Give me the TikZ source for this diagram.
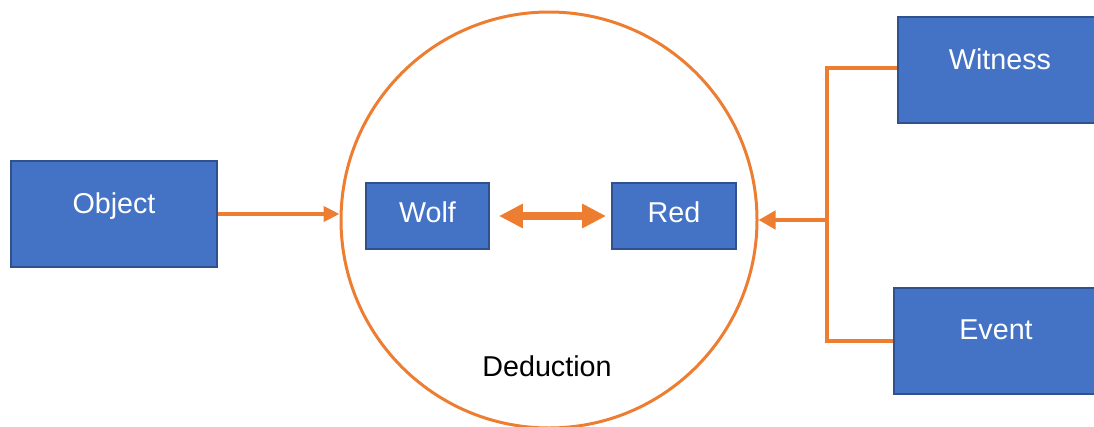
\documentclass[tikz,border=0pt]{standalone}
\usepackage{fontspec}
\setmainfont{Liberation Sans}
\usetikzlibrary{arrows.meta,calc}
\definecolor{boxblue}{HTML}{4472C4}
\definecolor{boxedge}{HTML}{2F528F}
\definecolor{linkorange}{HTML}{ED7D31}

\begin{document}
\begin{tikzpicture}[x=1pt,y=-1pt,
  box/.style={draw=boxedge, line width=1.8pt, fill=boxblue, text=white,
    inner sep=0pt, font=\fontsize{28.7}{32}\selectfont},
  bigbox/.style={box, minimum width=206pt, text height=52pt, text depth=54pt},
  smallbox/.style={box, text height=39pt, text depth=27pt},
  edgebox/.style={box, minimum width=240pt, minimum height=106pt, anchor=west},
  boxtext/.style={text=white, font=\fontsize{28.7}{32}\selectfont, anchor=base, inner sep=0pt},
  link/.style={draw=linkorange, line width=4.5pt},
  ring/.style={draw=linkorange, line width=3pt, circle, inner sep=0pt, minimum size=416pt},
  caption/.style={font=\fontsize{28.7}{32}\selectfont, text=black}
]
\useasboundingbox (0,0) rectangle (1094,426);

% the deduction circle and its caption
\node[ring] (circ) at (549,220) {};
\node[caption, anchor=base] (deduction) at (547,376.7) {Deduction};

% boxes
\node[bigbox] (object) at (114,214) {Object};
\node[smallbox, minimum width=123pt] (wolf) at (427.5,216) {Wolf};
\node[smallbox, minimum width=124pt] (red) at (674,216) {Red};

% the two boxes on the right run past the edge of the page
\node[edgebox] (witness) at (897,70) {};
\node[boxtext] (witnesstext) at (1000,69) {Witness};
\node[edgebox] (event) at (893,341) {};
\node[boxtext] (eventtext) at (996,339.5) {Event};

% object feeds the circle
\draw[link, -{Triangle[length=16pt,width=15pt]}] (object.east) -- (circ.west |- object.east);

% wolf <-> red
\draw[link, line width=7.5pt, yshift=3pt,
  {Triangle[length=24pt,width=23pt]}-{Triangle[length=24pt,width=23pt]},
  shorten <=9pt, shorten >=5pt] (wolf.east) -- (red.west);

% witness and event join into one arrow
\coordinate (wy) at (0,68);
\coordinate (junc) at (827,220);
\draw[link] (witness.west |- wy) -| (junc |- event.west) -- (event.west);
\draw[link] (junc |- wy) -- (junc);
\draw[link, -{Triangle[length=17pt,width=18pt]}] (junc) -- (circ.east);
\end{tikzpicture}
\end{document}
